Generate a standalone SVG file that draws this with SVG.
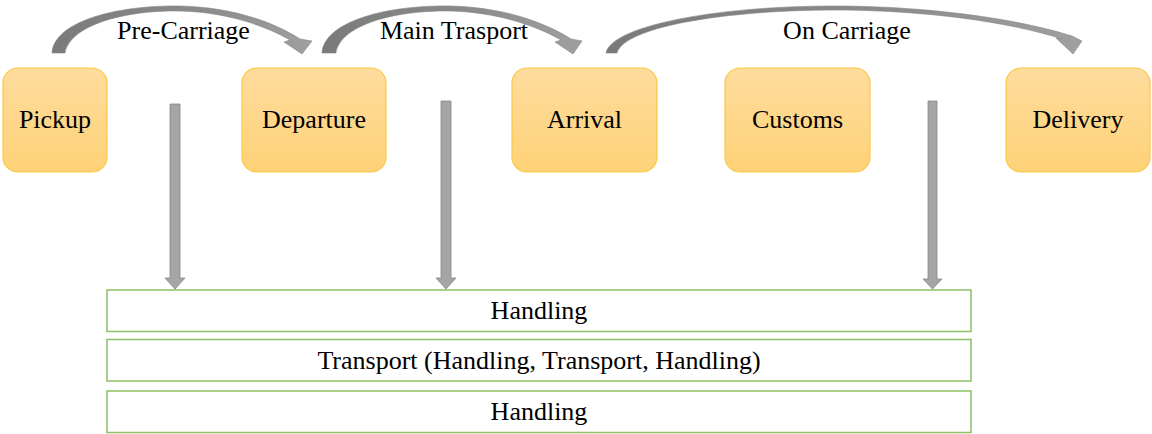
<svg xmlns="http://www.w3.org/2000/svg" width="1152" height="434" viewBox="0 0 1152 434">
<defs>
<linearGradient id="nodeFill" x1="0" y1="0" x2="0" y2="1">
<stop offset="0" stop-color="#ffdc9e"/>
<stop offset="1" stop-color="#fed277"/>
</linearGradient>
<linearGradient id="arcFill" x1="0" y1="0" x2="1" y2="0">
<stop offset="0" stop-color="#7a7a7a"/>
<stop offset="0.6" stop-color="#8c8c8c"/>
<stop offset="1" stop-color="#a0a0a0"/>
</linearGradient>
<style>
.node rect{fill:url(#nodeFill);stroke:#fbc843;stroke-width:1.2}
.bar rect{fill:#ffffff;stroke:#8cc063;stroke-width:1.5}
text{font-family:"Liberation Serif","Times New Roman",serif;font-size:26px;fill:#000;text-anchor:middle}
.arc{fill:url(#arcFill);stroke:#858585;stroke-width:0.6}
.down{fill:#a5a5a5;stroke:#888;stroke-width:0.8}
</style>
</defs>
<g id="node-pickup" class="node"><rect x="3" y="68" width="104" height="104" rx="15"/><text x="55" y="128">Pickup</text></g>
<g id="node-departure" class="node"><rect x="242" y="68" width="144" height="104" rx="15"/><text x="314" y="128">Departure</text></g>
<g id="node-arrival" class="node"><rect x="512" y="68" width="145" height="104" rx="15"/><text x="584.5" y="128">Arrival</text></g>
<g id="node-customs" class="node"><rect x="725" y="68" width="145" height="104" rx="15"/><text x="797.5" y="128">Customs</text></g>
<g id="node-delivery" class="node"><rect x="1006" y="68" width="144" height="104" rx="15"/><text x="1078" y="128">Delivery</text></g>
<g id="bar-handling-1" class="bar"><rect x="107" y="290" width="864" height="41.5"/><text x="539" y="319">Handling</text></g>
<g id="bar-transport" class="bar"><rect x="107" y="339.5" width="864" height="41.5"/><text x="539" y="368.5">Transport (Handling, Transport, Handling)</text></g>
<g id="bar-handling-2" class="bar"><rect x="107" y="391" width="864" height="41.5"/><text x="539" y="420">Handling</text></g>
<g id="connectors">
<path class="arc" d="M52,53 C54,22 115,5 180,6 C230,7 272,21 300,39 L312,41 L302,54 L284,42 L290,40 C264,25 225,12 180,11 C125,10 70,25 65,53 Z"/>
<path class="arc" d="M322,53 C324,22 385,5 450,6 C500,7 543,21 571,39 L582,41 L573,54 L555,42 L561,40 C535,25 495,12 450,11 C395,10 340,25 336,53 Z"/>
<path class="arc" d="M606,53 C612,25 720,6 833,6 C930,6 1018,19 1072,36 L1082,41 L1073,54 L1056,38 L1062,39 C1010,22 925,10 833,10 C735,10 625,25 617,53 Z"/>
<path class="down" d="M170,104 L180,104 L180,278 L185,278 L175,289 L165,278 L170,278 Z"/>
<path class="down" d="M441,101 L451,101 L451,278 L456,278 L446,289 L436,278 L441,278 Z"/>
<path class="down" d="M928,101 L937,101 L937,279 L942,279 L932.5,289 L923,279 L928,279 Z"/>
</g>
<text x="183.5" y="38.5">Pre-Carriage</text>
<text x="454" y="38.5">Main Trasport</text>
<text x="847" y="38.5">On Carriage</text>
</svg>
